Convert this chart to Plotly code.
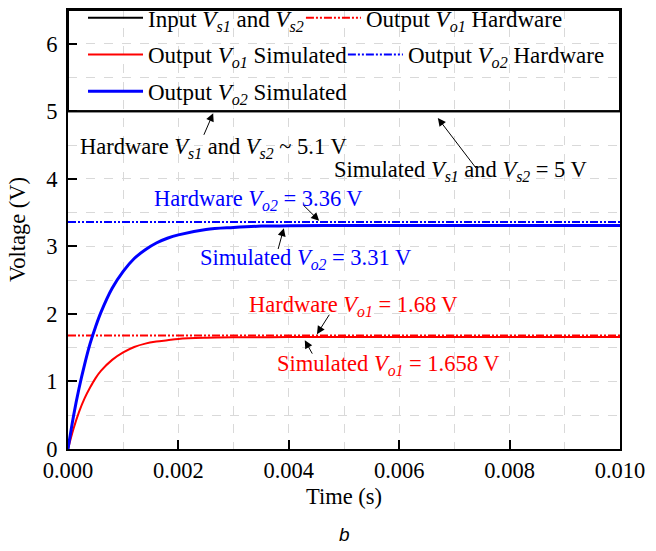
import plotly.graph_objects as go

# Sampled transient response of the two outputs (time in s, voltage in V)
time_s = [0, 0.0001, 0.0002, 0.0003, 0.0004, 0.0005, 0.0006, 0.0008, 0.001,
          0.0012, 0.0014, 0.0016, 0.0018, 0.002, 0.0025, 0.003, 0.0035,
          0.004, 0.005, 0.006, 0.008, 0.010]
vo2_sim = [0, 0.49, 0.90, 1.25, 1.56, 1.81, 2.03, 2.38, 2.63, 2.82, 2.95,
           3.05, 3.12, 3.17, 3.25, 3.28, 3.30, 3.304, 3.309, 3.31, 3.31, 3.31]
vo1_sim = [0, 0.30, 0.55, 0.75, 0.91, 1.05, 1.16, 1.32, 1.43, 1.51, 1.56,
           1.59, 1.61, 1.63, 1.647, 1.654, 1.656, 1.657, 1.658, 1.658, 1.658, 1.658]

# Steady levels
t_span = [0, 0.010]
vs_sim = 5.0
vo1_hw = 1.68
vo2_hw = 3.36

SERIF = "Liberation Serif, Times New Roman, serif"
DASHDOTDOT = "8px,2px,2px,2px,2px,2px"
FS = 22.5

fig = go.Figure()
fig.add_trace(go.Scatter(
    x=t_span, y=[vs_sim, vs_sim], mode="lines", legend="legend",
    line=dict(color="black", width=2),
    name="Input <i>V</i><sub><i>s1</i></sub> and <i>V</i><sub><i>s2</i></sub>"))
fig.add_trace(go.Scatter(
    x=t_span, y=[vo1_hw, vo1_hw], mode="lines", legend="legend2",
    line=dict(color="#ff0000", width=2, dash=DASHDOTDOT),
    name="Output <i>V</i><sub><i>o1</i></sub> Hardware"))
fig.add_trace(go.Scatter(
    x=time_s, y=vo1_sim, mode="lines", line_shape="spline", legend="legend3",
    line=dict(color="#ff0000", width=2),
    name="Output <i>V</i><sub><i>o1</i></sub> Simulated"))
fig.add_trace(go.Scatter(
    x=t_span, y=[vo2_hw, vo2_hw], mode="lines", legend="legend4",
    line=dict(color="#0000ff", width=2, dash=DASHDOTDOT),
    name="Output <i>V</i><sub><i>o2</i></sub> Hardware"))
fig.add_trace(go.Scatter(
    x=time_s, y=vo2_sim, mode="lines", line_shape="spline", legend="legend5",
    line=dict(color="#0000ff", width=3),
    name="Output <i>V</i><sub><i>o2</i></sub> Simulated"))

# Text labels
labels = [
    ("Hardware <i>V</i><sub><i>s1</i></sub> and <i>V</i><sub><i>s2</i></sub> ~ 5.1 V", 0.000181, 4.45, "black"),
    ("Simulated <i>V</i><sub><i>s1</i></sub> and <i>V</i><sub><i>s2</i></sub> = 5 V", 0.00478, 4.115, "black"),
    ("Hardware <i>V</i><sub><i>o2</i></sub> = 3.36 V", 0.00152, 3.69, "#0000ff"),
    ("Simulated <i>V</i><sub><i>o2</i></sub> = 3.31 V", 0.00236, 2.82, "#0000ff"),
    ("Hardware <i>V</i><sub><i>o1</i></sub> = 1.68 V", 0.00324, 2.11, "#ff0000"),
    ("Simulated <i>V</i><sub><i>o1</i></sub> = 1.658 V", 0.00375, 1.25, "#ff0000"),
]
for txt, x, y, col in labels:
    fig.add_annotation(x=x, y=y, xref="x", yref="y", text=txt, showarrow=False,
                       xanchor="left", yanchor="middle",
                       font=dict(family=SERIF, size=FS, color=col))

# Pointer arrows: (head_x, head_y, tail_x, tail_y)
arrows = [
    (0.00263, 4.97, 0.00245, 4.63),
    (0.00670, 4.90, 0.00741, 4.14),
    (0.00455, 3.38, 0.00424, 3.63),
    (0.00391, 3.27, 0.00380, 2.94),
    (0.00451, 1.70, 0.00475, 2.01),
    (0.00429, 1.61, 0.00444, 1.39),
]
for hx, hy, tx, ty in arrows:
    fig.add_annotation(x=hx, y=hy, ax=tx, ay=ty, xref="x", yref="y",
                       axref="x", ayref="y", text="", showarrow=True,
                       arrowhead=2, arrowsize=1.6, arrowwidth=1,
                       arrowcolor="black", standoff=0, startstandoff=0)

# Panel letter
fig.add_annotation(x=0.5, y=-0.195, xref="paper", yref="paper", text="<i>b</i>",
                   showarrow=False, yanchor="middle",
                   font=dict(family="Liberation Sans, Arial, sans-serif", size=19,
                             color="black"))

# Frame around the key block
fig.add_shape(type="rect", xref="paper", yref="y", x0=0, x1=1, y0=5.0, y1=6.5,
              line=dict(color="black", width=2), fillcolor="rgba(0,0,0,0)",
              layer="above")

grid = dict(gridcolor="#d9d9d9", griddash="dash", gridwidth=1)

fig.update_xaxes(
    range=[0, 0.010], dtick=0.002, tickformat=".3f",
    showline=True, linecolor="black", linewidth=2, mirror=True,
    ticks="inside", ticklen=9, tickwidth=2, tickcolor="black",
    showgrid=True, **grid, zeroline=False,
    minor=dict(dtick=0.001, showgrid=True, ticks="", **grid),
    tickfont=dict(family=SERIF, size=FS, color="black"),
    title=dict(text="Time (s)", font=dict(family=SERIF, size=FS, color="black"),
               standoff=6),
)
fig.update_yaxes(
    range=[0, 6.5], dtick=1,
    showline=True, linecolor="black", linewidth=2, mirror=True,
    ticks="inside", ticklen=9, tickwidth=2, tickcolor="black",
    showgrid=True, **grid, zeroline=False,
    minor=dict(dtick=0.5, showgrid=True, ticks="", **grid),
    tickfont=dict(family=SERIF, size=FS, color="black"),
    title=dict(text="Voltage (V)", font=dict(family=SERIF, size=FS, color="black"),
               standoff=14),
    ticklabelstandoff=4,
)

# One key block per entry, laid out in three rows
key_common = dict(orientation="h", xanchor="left", yanchor="middle",
                  bgcolor="rgba(0,0,0,0)", borderwidth=0,
                  font=dict(family=SERIF, size=23, color="black"),
                  itemwidth=55)
row_y = [0.982, 0.8985, 0.815]
fig.update_layout(
    width=656, height=551,
    margin=dict(l=68, r=36, t=10, b=102, autoexpand=False),
    paper_bgcolor="white", plot_bgcolor="white",
    showlegend=True,
    legend=dict(x=0.0272, y=row_y[0], **key_common),
    legend2=dict(x=0.422, y=row_y[0], **key_common),
    legend3=dict(x=0.0272, y=row_y[1], **key_common),
    legend4=dict(x=0.498, y=row_y[1], **key_common),
    legend5=dict(x=0.0272, y=row_y[2], **key_common),
)

fig.write_html("out.html")
